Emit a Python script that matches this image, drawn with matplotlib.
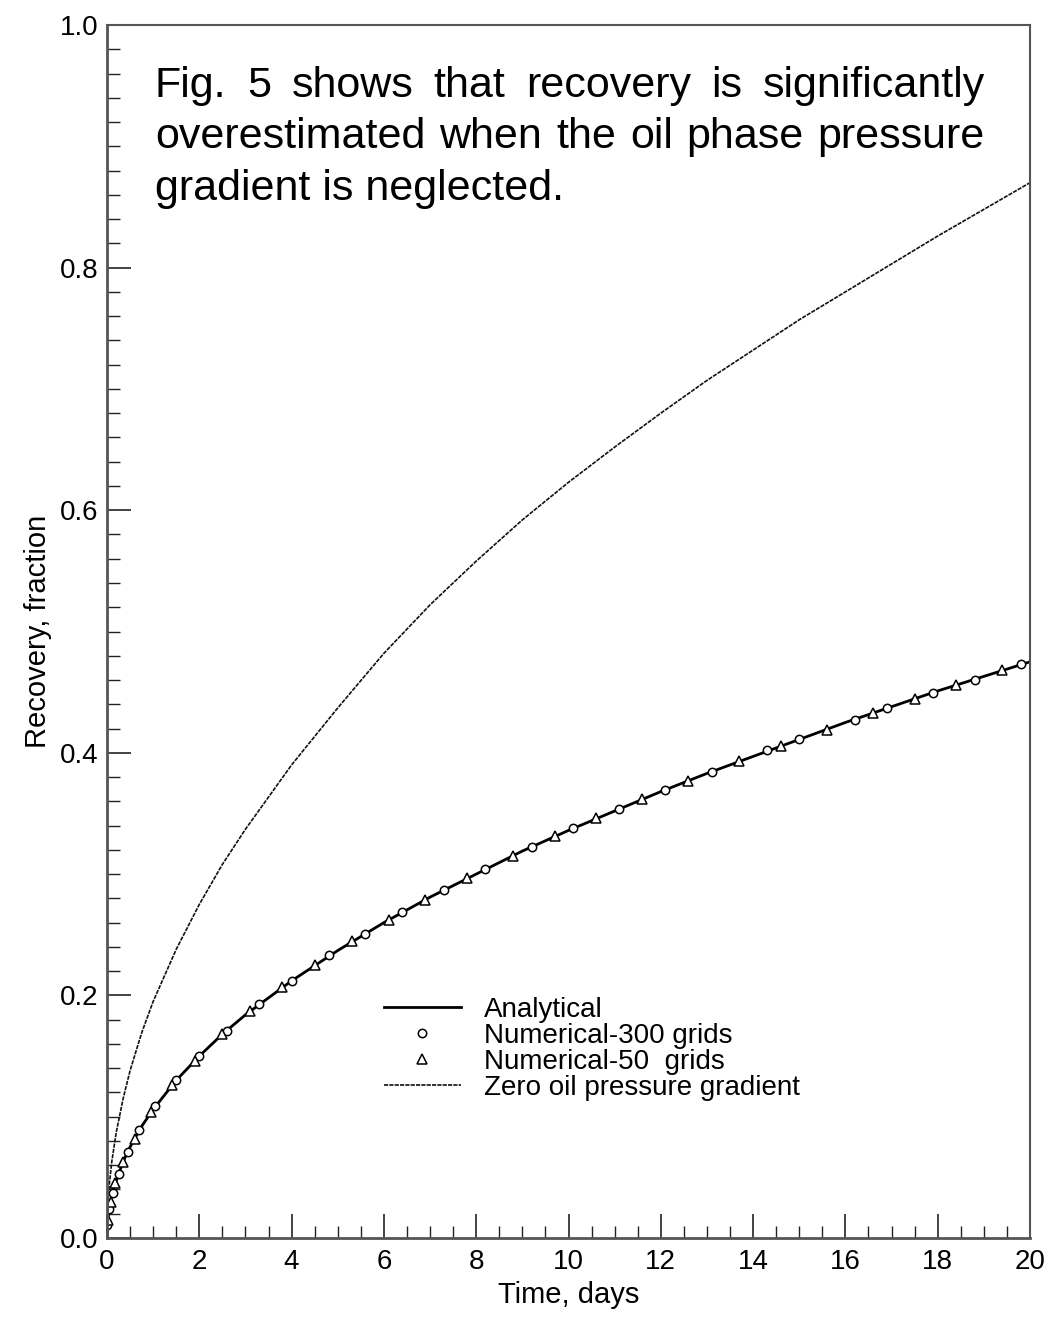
import matplotlib
matplotlib.use('Agg')
import matplotlib.pyplot as plt
from matplotlib.ticker import MultipleLocator, FormatStrFormatter

plt.rcParams['font.family'] = ['Liberation Sans', 'DejaVu Sans']

# time grid of the two curves (days)
t_line = [0, 0.02, 0.05, 0.1, 0.2, 0.35, 0.5, 0.75, 1, 1.5, 2, 2.5, 3, 4, 5, 6, 7, 8,
          9, 10, 11, 12, 13, 14, 15, 16, 17, 18, 19, 20]
analytical = [0, 0.015, 0.024, 0.034, 0.047, 0.063, 0.075, 0.092, 0.106, 0.130, 0.150,
              0.168, 0.184, 0.212, 0.237, 0.260, 0.281, 0.300, 0.319, 0.336, 0.352,
              0.368, 0.383, 0.397, 0.411, 0.425, 0.438, 0.451, 0.463, 0.475]
zero_grad = [0, 0.028, 0.044, 0.062, 0.087, 0.115, 0.138, 0.169, 0.195, 0.238, 0.275,
             0.308, 0.337, 0.390, 0.437, 0.482, 0.522, 0.558, 0.592, 0.623, 0.652,
             0.680, 0.707, 0.732, 0.757, 0.780, 0.803, 0.826, 0.848, 0.870]

# numerical results, 300 grid blocks
t_300 = [0.01, 0.05, 0.12, 0.25, 0.45, 0.7, 1.05, 1.5, 2.0, 2.6, 3.3, 4.0, 4.8, 5.6,
         6.4, 7.3, 8.2, 9.2, 10.1, 11.1, 12.1, 13.1, 14.3, 15.0, 16.2, 16.9, 17.9,
         18.8, 19.8]
rec_300 = [0.011, 0.024, 0.037, 0.053, 0.071, 0.089, 0.109, 0.130, 0.150, 0.171, 0.193,
           0.212, 0.233, 0.251, 0.269, 0.287, 0.304, 0.322, 0.338, 0.354, 0.369, 0.384,
           0.402, 0.411, 0.427, 0.437, 0.449, 0.460, 0.473]

# numerical results, 50 grid blocks
t_50 = [0.02, 0.08, 0.18, 0.35, 0.6, 0.95, 1.4, 1.9, 2.5, 3.1, 3.8, 4.5, 5.3, 6.1, 6.9,
        7.8, 8.8, 9.7, 10.6, 11.6, 12.6, 13.7, 14.6, 15.6, 16.6, 17.5, 18.4, 19.4]
rec_50 = [0.015, 0.030, 0.045, 0.063, 0.082, 0.104, 0.126, 0.146, 0.168, 0.187, 0.207,
          0.225, 0.245, 0.262, 0.279, 0.297, 0.315, 0.331, 0.346, 0.362, 0.377, 0.393,
          0.406, 0.419, 0.433, 0.444, 0.456, 0.468]

W, H = 1060, 1318
fig = plt.figure(figsize=(W / 100, H / 100), dpi=100)
ax = fig.add_axes([107 / W, 1 - 1238 / H, 923 / W, 1213 / H])

l_an, = ax.plot(t_line, analytical, color='black', lw=2.0)
l_300, = ax.plot(t_300, rec_300, ls='none', marker='o', mfc='white', mec='black',
                 ms=6, mew=1.1)
l_50, = ax.plot(t_50, rec_50, ls='none', marker='^', mfc='white', mec='black',
                ms=6.5, mew=1.1)
l_zero, = ax.plot(t_line, zero_grad, color='#111111', lw=1.2, ls=(0, (2.5, 0.7)))

ax.set_xlim(0, 20)
ax.set_ylim(0, 1.0)
ax.xaxis.set_major_locator(MultipleLocator(2))
ax.xaxis.set_minor_locator(MultipleLocator(0.5))
ax.yaxis.set_major_locator(MultipleLocator(0.2))
ax.yaxis.set_minor_locator(MultipleLocator(0.02))
ax.yaxis.set_major_formatter(FormatStrFormatter('%.1f'))
ax.tick_params(which='both', direction='in', top=False, right=False, labelsize=20,
               color='#222222')
ax.tick_params(which='major', length=17, width=1.2)
ax.tick_params(axis='x', which='major', pad=8)
ax.tick_params(axis='y', which='major', pad=6)
ax.tick_params(which='minor', length=9, width=1.0)
for side in ['left', 'bottom']:
    ax.spines[side].set_linewidth(2.0)
    ax.spines[side].set_color('#555555')
for side in ['top', 'right']:
    ax.spines[side].set_linewidth(1.5)
    ax.spines[side].set_color('#555555')

ax.set_xlabel('Time, days', fontsize=21, labelpad=4)
ax.set_ylabel('Recovery, fraction', fontsize=21, labelpad=6)

ax.legend([l_an, l_300, l_50, l_zero],
          ['Analytical', 'Numerical-300 grids', 'Numerical-50  grids',
           'Zero oil pressure gradient'],
          loc='upper left', bbox_to_anchor=(6.0, 0.199), bbox_transform=ax.transData,
          frameon=False, fontsize=20, labelspacing=0.0, handlelength=2.77,
          handletextpad=0.83, borderpad=0, borderaxespad=0)

# justified note in the upper left
lines = ['Fig. 5 shows that recovery is significantly',
         'overestimated when the oil phase pressure',
         'gradient is neglected.']
baselines = [97, 148, 200]
x_left, x_right = 155, 985
renderer = fig.canvas.get_renderer()
for i, (line, yb) in enumerate(zip(lines, baselines)):
    y = 1 - yb / H
    if i == len(lines) - 1:
        fig.text(x_left / W, y, line, fontsize=31, va='baseline', ha='left')
        continue
    words = line.split()
    txts = [fig.text(0, y, w, fontsize=31, va='baseline', ha='left') for w in words]
    widths = [t.get_window_extent(renderer).width for t in txts]
    gap = (x_right - x_left - sum(widths)) / (len(words) - 1)
    x = x_left
    for t, w in zip(txts, widths):
        t.set_x(x / W)
        x += w + gap

fig.savefig('out.png', dpi=100)
